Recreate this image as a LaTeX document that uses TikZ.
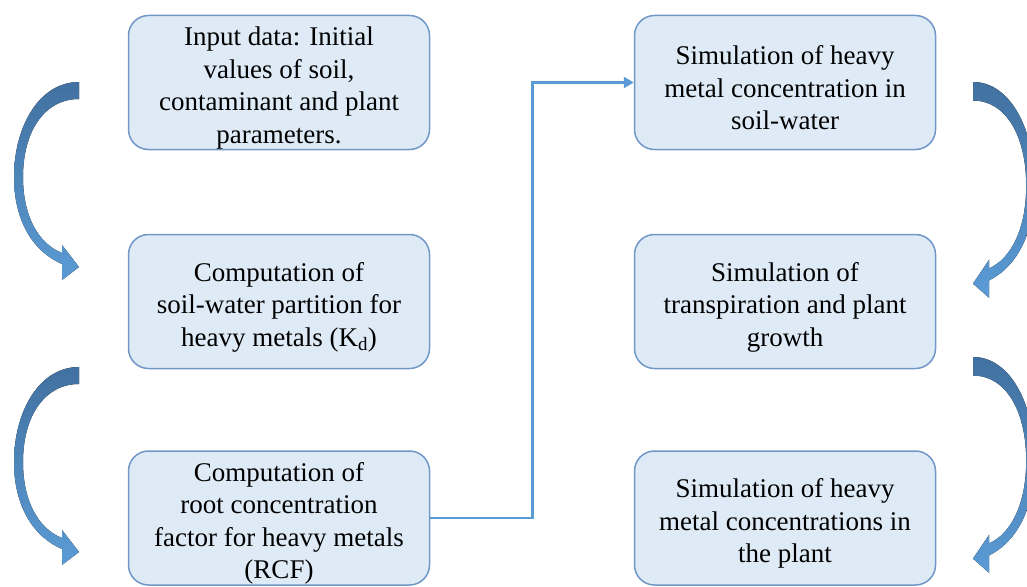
\documentclass[tikz,border=0pt]{standalone}
\usepackage{fontspec}
\setmainfont{Liberation Serif}
\usetikzlibrary{arrows.meta}
\definecolor{boxfill}{RGB}{222,235,247}
\definecolor{boxline}{RGB}{113,151,199}
\definecolor{connblue}{RGB}{91,155,213}
\definecolor{arrowdark}{RGB}{65,113,160}
\definecolor{arrowlight}{RGB}{91,155,213}
\newcommand{\lift}{\rule{0pt}{30pt}}
\newcommand{\bentarrowpath}{(0,0) .. controls (-40,0) and (-65,45) .. (-65,95) .. controls (-65,140) and (-45,170) .. (-17,182) -- (-17,198) -- (0,185) -- (-17,163) -- (-17,171) .. controls (-40,162) and (-56,135) .. (-56,95) .. controls (-56,50) and (-35,17) .. (0,17) -- cycle}
\begin{document}
\begin{tikzpicture}[x=1pt,y=-1pt,
  stepbox/.style={draw=boxline, fill=boxfill, line width=1.5pt, rounded corners=20pt,
    minimum width=301pt, minimum height=134pt, align=center, inner sep=0pt,
    font=\fontsize{27}{32.5}\selectfont},
  conn/.style={draw=connblue, line width=2.8pt, -{Triangle[length=10pt,width=11pt]}},
  bendfill/.style={top color=arrowdark, bottom color=arrowlight, draw=none}]
\useasboundingbox (0,0) rectangle (1027,586);
\fill[white] (0,0) rectangle (1027,586);
\begin{scope}
\clip (0,0) rectangle (1027,586);
% left column
\node[stepbox] (b1) at (279,82.5) {\lift Input data: Initial\\values of soil,\\contaminant and plant\\parameters.};
\node[stepbox] (b2) at (279,301.5) {\lift Computation of\\soil-water partition for\\heavy metals (K\textsubscript{d})};
\node[stepbox] (b3) at (279,518) {\lift Computation of\\root concentration\\factor for heavy metals\\(RCF)};
% right column
\node[stepbox] (r1) at (785,82.5) {\lift Simulation of heavy\\metal concentration in\\soil-water};
\node[stepbox] (r2) at (785,301.5) {\lift Simulation of\\transpiration and plant\\growth};
\node[stepbox] (r3) at (785,518) {\lift Simulation of heavy\\metal concentrations in\\the plant};
% connector
\draw[conn] (b3.east) -- ++(102,0) |- (r1.west);
% curved arrows left
\begin{scope}[shift={(79,82)}]
\fill[bendfill] \bentarrowpath;
\end{scope}
\begin{scope}[shift={(79,367)}]
\fill[bendfill] \bentarrowpath;
\end{scope}
% curved arrows right
\begin{scope}[shift={(973,82)}, xscale=-0.95, yscale=1.09]
\fill[bendfill] \bentarrowpath;
\end{scope}
\begin{scope}[shift={(973,357)}, xscale=-0.95, yscale=1.09]
\fill[bendfill] \bentarrowpath;
\end{scope}
\end{scope}
\end{tikzpicture}
\end{document}
